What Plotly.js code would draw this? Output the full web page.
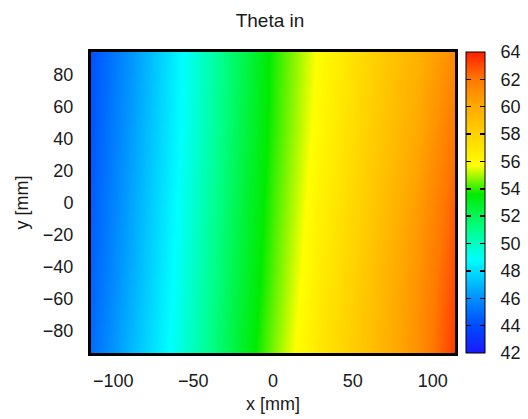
<!DOCTYPE html>
<html>
<head>
<meta charset="utf-8">
<script src="https://cdn.plot.ly/plotly-3.0.1.min.js"></script>
<style>html,body{margin:0;padding:0;background:#fff;}#chart{width:528px;height:419px;}</style>
</head>
<body>
<div id="chart"></div>
<script>
// x positions (mm) and y positions (mm) of the sampled grid
const xPos = [-114, -90, -60, -30, 0, 30, 60, 90, 114];
const yPos = [-94, -47, 0, 47, 94];
// Theta in values, one array per y row (bottom to top)
const rowYm94 = [45.0, 46.9, 49.2, 51.9, 54.6, 57.0, 58.9, 61.0, 63.4];
const rowYm47 = [44.7, 46.6, 49.0, 51.7, 54.3, 56.7, 58.7, 60.9, 63.0];
const rowY0   = [44.5, 46.4, 48.8, 51.5, 54.1, 56.4, 58.4, 60.5, 62.6];
const rowY47  = [44.3, 46.2, 48.6, 51.3, 53.9, 56.1, 58.1, 60.0, 62.0];
const rowY94  = [44.2, 46.0, 48.5, 51.2, 53.8, 55.9, 57.9, 59.6, 61.3];
const cbTicks = [42, 44, 46, 48, 50, 52, 54, 56, 58, 60, 62, 64];
const xTicks = [-100, -50, 0, 50, 100];
const yTicks = [-80, -60, -40, -20, 0, 20, 40, 60, 80];

const zmin = 42, zmax = 64;
const stops = [
  [42, 'rgb(25,25,255)'],
  [44, 'rgb(0,75,255)'],
  [46, 'rgb(0,145,255)'],
  [48.8, 'rgb(0,255,255)'],
  [51, 'rgb(0,255,140)'],
  [53.6, 'rgb(0,235,0)'],
  [55.7, 'rgb(255,255,0)'],
  [58, 'rgb(255,210,0)'],
  [60, 'rgb(255,170,0)'],
  [62, 'rgb(255,120,0)'],
  [64, 'rgb(255,30,0)']
];
const colorscale = stops.map(s => [(s[0]-zmin)/(zmax-zmin), s[1]]);
const clear = [[0, 'rgba(0,0,0,0)'], [1, 'rgba(0,0,0,0)']];

const font = {family: 'Liberation Sans, Arial, sans-serif', size: 18, color: '#1a1a1a'};
const plotW = 364;
const cbX = (466 - 91) / plotW;

const trace = {
  type: 'heatmap',
  x: xPos, y: yPos,
  z: [rowYm94, rowYm47, rowY0, rowY47, rowY94],
  zsmooth: 'best',
  zmin: zmin, zmax: zmax,
  colorscale: colorscale,
  colorbar: {
    x: cbX, xanchor: 'left', xpad: 0,
    y: 0.5, yanchor: 'middle', len: 1, lenmode: 'fraction', ypad: 0,
    thickness: 19, thicknessmode: 'pixels',
    outlinewidth: 1, outlinecolor: '#000',
    tickvals: cbTicks, ticks: 'outside', ticklen: 12, tickcolor: 'rgba(0,0,0,0)',
    tickfont: font
  },
  hoverinfo: 'skip'
};

// transparent overlay colorbars that only draw gnuplot-style dashes on both sides
function dashBar(thick) {
  return {
    type: 'scatter', mode: 'markers', x: [null], y: [null], showlegend: false, hoverinfo: 'skip',
    marker: {
      color: [zmin], cmin: zmin, cmax: zmax, colorscale: clear, showscale: true, opacity: 0,
      colorbar: {
        x: cbX, xanchor: 'left', xpad: 0, y: 0.5, yanchor: 'middle', len: 1, ypad: 0,
        thickness: thick, thicknessmode: 'pixels', outlinewidth: 0, bgcolor: 'rgba(0,0,0,0)',
        tickvals: cbTicks.slice(1, -1), ticks: 'inside', ticklen: 5, tickwidth: 1.5, tickcolor: '#000',
        showticklabels: false
      }
    }
  };
}

const layout = {
  width: 528, height: 419,
  margin: {l: 91, r: 73, t: 52, b: 66, autoexpand: false},
  paper_bgcolor: '#fff', plot_bgcolor: '#fff',
  font: font,
  showlegend: false,
  title: {text: 'Theta in', font: {family: font.family, size: 19, color: '#1a1a1a'}, x: 270/528, xanchor: 'center', y: 1 - 20/419, yanchor: 'middle'},
  xaxis: {
    range: [-114, 114], tickvals: xTicks, ticks: 'outside', ticklen: 9, tickcolor: 'rgba(0,0,0,0)',
    showline: true, linewidth: 3, linecolor: '#000', mirror: true, showgrid: false, zeroline: false,
    title: {text: 'x [mm]', font: font, standoff: 8}, tickfont: font
  },
  yaxis: {
    range: [-94, 94], tickvals: yTicks, ticks: 'outside', ticklen: 11, tickcolor: 'rgba(0,0,0,0)',
    showline: true, linewidth: 3, linecolor: '#000', mirror: true, showgrid: false, zeroline: false,
    title: {text: 'y [mm]', font: font, standoff: 10}, tickfont: font
  }
};

Plotly.newPlot('chart', [trace, dashBar(19), dashBar(5)], layout, {displayModeBar: false, staticPlot: true});
</script>
</body>
</html>
